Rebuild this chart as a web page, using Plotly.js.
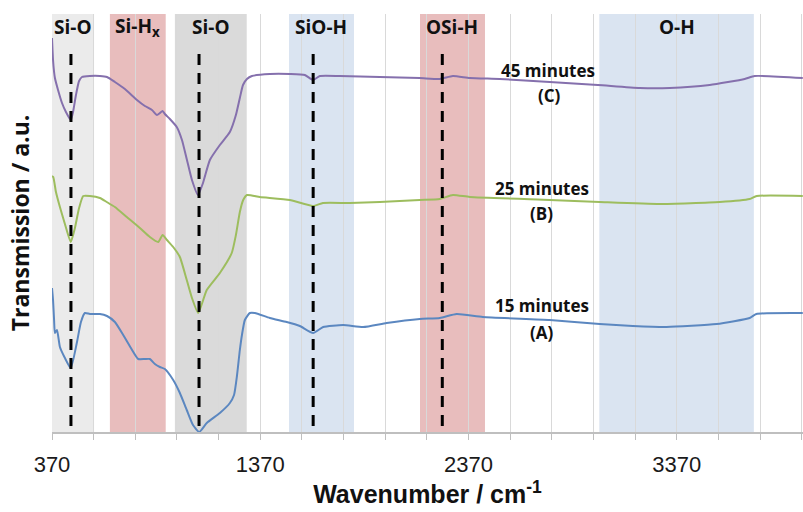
<!DOCTYPE html>
<html>
<head>
<meta charset="utf-8">
<script src="https://cdn.plot.ly/plotly-3.0.1.min.js"></script>
<style>html,body{margin:0;padding:0;background:#fff;}#chart{width:803px;height:512px;}</style>
</head>
<body>
<div id="chart"></div>
<script>
// ---- data (wavenumber in cm-1, transmission in arbitrary units, curves offset as in the figure) ----
const wnC = [370,375,380,384,399,418,437,460,471,485,500,514,552,600,634,672,720,778,816,850,874,888,901,912,936,969,994,1018,1042,1071,1095,1128,1176,1224,1253,1272,1287,1306,1330,1416,1512,1584,1623,1656,1752,1944,2136,2232,2295,2376,2520,2760,2991,3192,3336,3528,3696,3744,3975];
const trC = [394,372,360,354,342,329,320,312,320,337,351,355,356,356,355,350,343,332,326,322,317,319,321,318,313,305,292,272,252,237,249,272,287,300,317,334,347,353,356,358,358,357,352,356,356,355,354,353,356,354,353,350,347,344,344,347,353,356,354];

const wnB = [370,376,389,408,432,460,480,500,520,552,600,633,672,729,792,840,880,901,922,952,984,1017,1042,1072,1113,1176,1233,1253,1272,1288,1306,1368,1512,1623,1671,1800,1944,2136,2232,2295,2376,2760,3000,3288,3576,3720,3754,3975];
const trB = [256,255,240,225,208,190,204,224,236,236,234,230,225,215,204,195,190,197,192,185,175,152,134,119,142,159,179,197,220,232,237,235,232,226,229,229,230,232,233,237,235,232,230,228,230,233,236,236];

const wnA = [370,375,380,384,394,408,432,460,489,509,528,552,600,634,672,712,749,784,816,840,864,888,912,952,984,1017,1047,1077,1113,1176,1224,1244,1258,1272,1282,1296,1320,1344,1416,1497,1560,1624,1672,1768,1864,1977,2136,2232,2313,2439,2760,3000,3159,3321,3561,3720,3752,3975];
const trA = [144,132,112,99,102,85,74,64,89,110,119,118,118,116,110,97,84,73,73,73,68,65,63,52,39,22,7,0,9,19,29,37,56,82,97,112,119,119,114,110,106,99,105,107,105,109,113,114,118,115,112,108,106,105,108,114,118,119];

const seriesNames = ['15 minutes (A)', '25 minutes (B)', '45 minutes (C)'];

// assignment bands (cm-1)
const bandStart = [370, 648, 960, 1508, 2137, 2998];
const bandEnd   = [572, 916, 1305, 1820, 2449, 3740];
const bandLabel = ['Si-O', 'Si-H<sub>x</sub>', 'Si-O', 'SiO-H', 'OSi-H', 'O-H'];
const bandKind  = ['grayLight', 'red', 'gray', 'blue', 'red', 'blue'];

// marked peak positions (cm-1)
const peakPos = [461, 1076, 1624, 2244];

// curve labels
const curveLabelText = ['45 minutes', '(C)', '25 minutes', '(B)', '15 minutes', '(A)'];
const curveLabelX = [2751, 2760, 2722, 2722, 2722, 2722];
const curveLabelY = [362, 337, 244, 219, 127, 100];

// x ticks: labelled every 1000, minor ticks/grid every 200
const majorTicks = [370, 1370, 2370, 3370];
const majorText = ['370', '1370', '2370', '3370'];
const minorTicks = [570, 770, 970, 1170, 1570, 1770, 1970, 2170, 2570, 2770, 2970, 3170, 3570, 3770, 3970];

// ---- styles ----
const bandColors = {grayLight:'#ebebeb', gray:'#dadada', red:'#e8bdbd', blue:'#dae4f1'};
const lineColors = ['#5b87c0', '#9dbd5e', '#8570ad'];
const labelFont = {family:'"Open Sans", sans-serif', size:19, color:'#111', weight:700};

const traces = [
  {x: wnA, y: trA, name: seriesNames[0], mode:'lines', line:{color:lineColors[0], width:2, shape:'spline', smoothing:0.5}},
  {x: wnB, y: trB, name: seriesNames[1], mode:'lines', line:{color:lineColors[1], width:2, shape:'spline', smoothing:0.5}},
  {x: wnC, y: trC, name: seriesNames[2], mode:'lines', line:{color:lineColors[2], width:2, shape:'spline', smoothing:0.5}}
];

const shapes = [];
bandStart.forEach((s, i) => {
  shapes.push({type:'rect', layer:'below', xref:'x', yref:'paper', x0:s, x1:bandEnd[i], y0:0, y1:1,
    fillcolor: bandColors[bandKind[i]], line:{width:0}});
});
peakPos.forEach(p => {
  shapes.push({type:'line', layer:'above', xref:'x', yref:'y', x0:p, x1:p, y0:6, y1:385,
    line:{color:'#000', width:3, dash:'11px,8px'}});
});

const annotations = [];
bandStart.forEach((s, i) => {
  annotations.push({xref:'x', yref:'y', x:(s + bandEnd[i]) / 2, y:405, text:bandLabel[i],
    showarrow:false, font:labelFont, xanchor:'center', yanchor:'middle'});
});
curveLabelText.forEach((t, i) => {
  annotations.push({xref:'x', yref:'y', x:curveLabelX[i], y:curveLabelY[i], text:t,
    showarrow:false, font:{family:'"Open Sans", sans-serif', size:17, color:'#111', weight:700},
    xanchor:'center', yanchor:'middle'});
});

const layout = {
  width:803, height:512,
  margin:{l:52, r:0, t:14, b:80},
  paper_bgcolor:'#fff', plot_bgcolor:'rgba(0,0,0,0)',
  showlegend:false,
  xaxis:{
    range:[370, 3976], tickmode:'array', tickvals:majorTicks, ticktext:majorText,
    ticks:'outside', ticklen:6, tickcolor:'#bfbfbf', tickwidth:1,
    showgrid:true, gridcolor:'#d9d9d9', gridwidth:1,
    minor:{tickmode:'array', tickvals:minorTicks, ticks:'outside', ticklen:6, tickcolor:'#bfbfbf', tickwidth:1,
      showgrid:true, gridcolor:'#d9d9d9', gridwidth:1},
    showline:true, linecolor:'#bfbfbf', linewidth:1.5,
    zeroline:false,
    tickfont:{family:'Arial, "Liberation Sans", sans-serif', size:22, color:'#1a1a1a'},
    ticklabelstandoff:6,
    title:{text:'Wavenumber / cm<sup>-1</sup>', font:{family:'Arial, "Liberation Sans", sans-serif', size:25, color:'#111', weight:700}, standoff:6}
  },
  yaxis:{
    range:[0, 418], showticklabels:false, ticks:'', showgrid:false, zeroline:false, showline:false,
    title:{text:'Transmission / a.u.', font:{family:'"Open Sans", sans-serif', size:23, color:'#111', weight:700}, standoff:14}
  },
  shapes: shapes,
  annotations: annotations
};

Plotly.newPlot('chart', traces, layout, {displayModeBar:false, staticPlot:true});
</script>
</body>
</html>
